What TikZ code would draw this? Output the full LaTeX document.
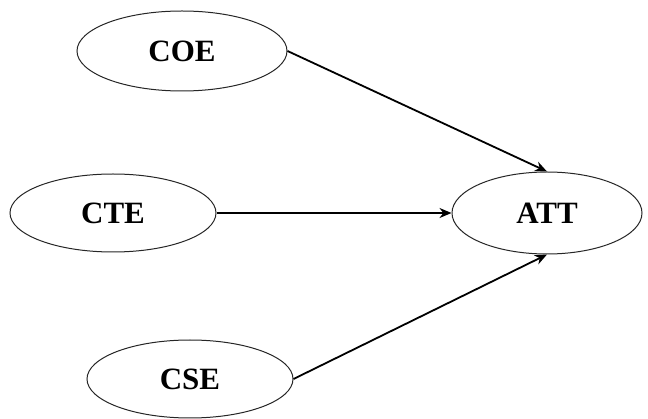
\documentclass[tikz,border=0pt]{standalone}
\usepackage{fontspec}
\setmainfont{Liberation Serif}
\usetikzlibrary{shapes.geometric,arrows.meta}
\begin{document}
\begin{tikzpicture}[x=1pt,y=-1pt,
  construct/.style={ellipse,draw=black!85,line width=1pt,inner sep=0pt,
    font=\fontsize{31}{33}\selectfont\bfseries},
  path/.style={line width=1.8pt,-{Stealth[length=12pt,width=10pt]}}]
  \useasboundingbox[fill=white] (0,0) rectangle (648,419);
  \node[construct,minimum width=210pt,minimum height=80pt] (coe) at (182,51) {COE};
  \node[construct,minimum width=206pt,minimum height=78pt] (cte) at (113,213) {CTE};
  \node[construct,minimum width=190pt,minimum height=82pt] (att) at (547,213) {ATT};
  \node[construct,minimum width=206pt,minimum height=78pt] (cse) at (190,379) {CSE};
  \draw[path] (coe.east) -- (att.north);
  \draw[path] (cte.east) -- (att.west);
  \draw[path] (cse.east) -- (att.south);
\end{tikzpicture}
\end{document}
